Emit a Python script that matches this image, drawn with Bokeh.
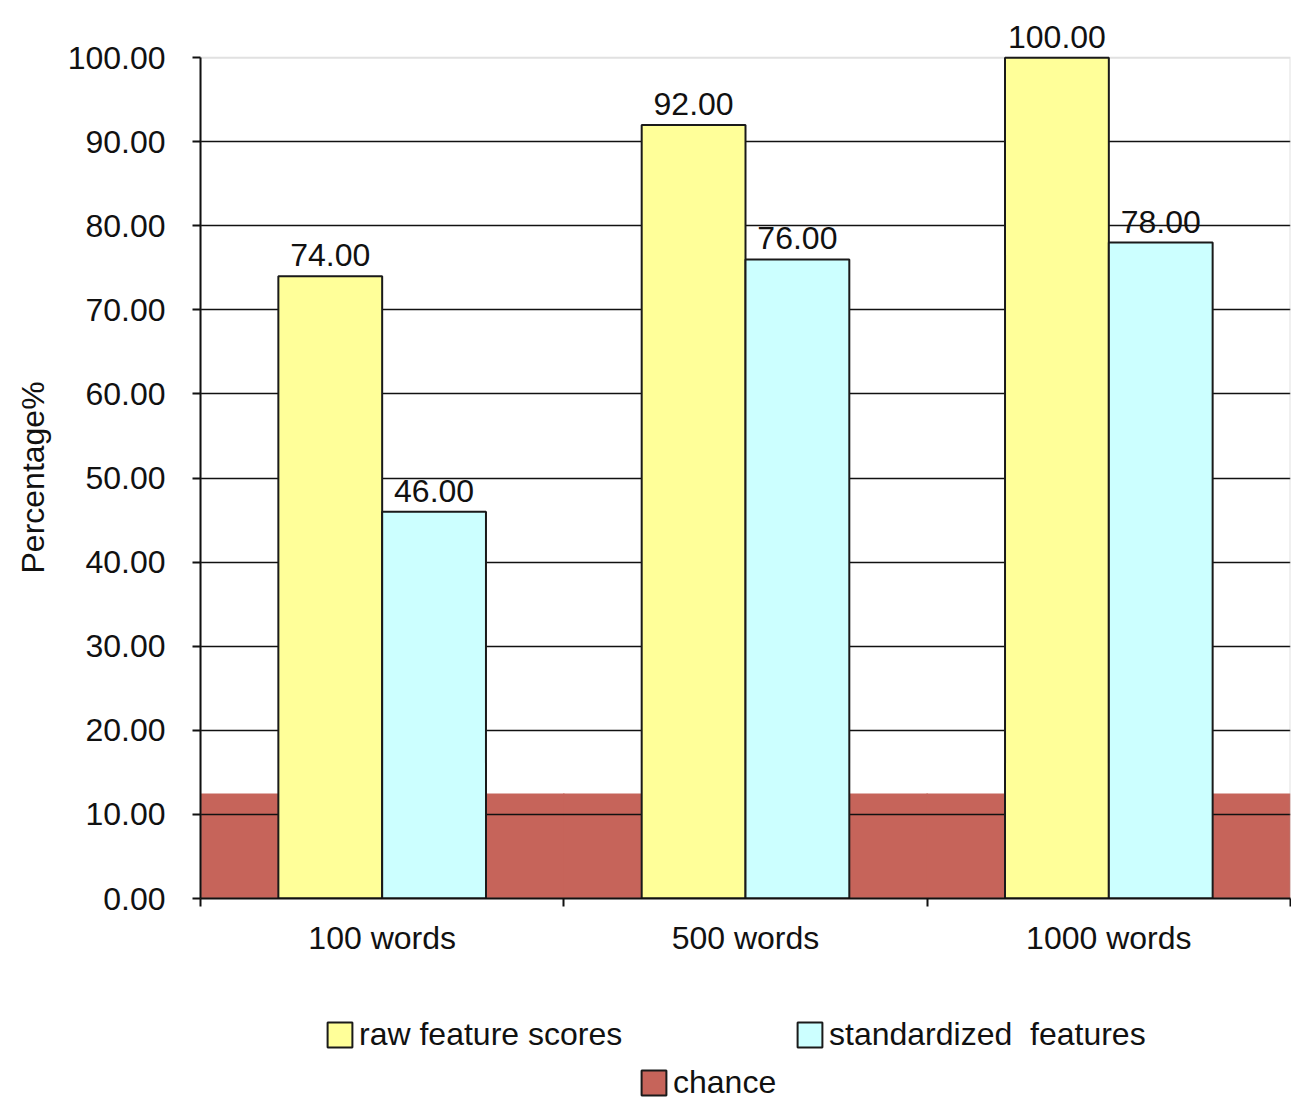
from bokeh.plotting import figure
from bokeh.layouts import column
from bokeh.models import (Range1d, FixedTicker, NumeralTickFormatter, Legend, LegendItem,
                          ColumnDataSource, BoxAnnotation, Title)
from bokeh.core.properties import value
from bokeh.embed import file_html
from bokeh.resources import INLINE

# Accuracy per text length
categories = ["100 words", "500 words", "1000 words"]
raw_scores = [74.00, 92.00, 100.00]
standardized = [46.00, 76.00, 78.00]
chance = [12.5, 12.5, 12.5]
y_ticks = [0, 10, 20, 30, 40, 50, 60, 70, 80, 90, 100]

FONT = "Liberation Sans"
FS = "32px"
INK = "#111111"
YELLOW = "#FFFF99"
CYAN = "#CCFFFF"
RED = "#C6645A"
EDGE = "#1a1a1a"

W = 1291
MAIN_H = 991
KEY_H = 110

# group layout: two bars per category, Excel-like gap width of 150%
bar_w = 1 / 3.5
centers = [i + 0.5 for i in range(len(categories))]
x_raw = [c - bar_w / 2 for c in centers]
x_std = [c + bar_w / 2 for c in centers]

# headroom above 100 keeps the top value label inside the drawing area
p = figure(width=W, height=MAIN_H, x_range=Range1d(0, len(categories)), y_range=Range1d(0, 106.2),
           output_backend="svg", toolbar_location=None,
           min_border_left=200, min_border_right=1, min_border_top=5, min_border_bottom=MAIN_H - 898)
p.background_fill_color = "white"
p.border_fill_color = "white"
p.outline_line_color = None

# plot-area border from 0 to 100
p.add_layout(BoxAnnotation(left=0, right=len(categories), bottom=0, top=100, fill_alpha=0,
                           line_color="#9a9a9a", line_width=2, level="underlay"))

# chance level band sits beneath the gridlines
chance_src = ColumnDataSource(dict(x=centers, top=chance))
p.vbar(x="x", top="top", width=1.004, source=chance_src, fill_color=RED,
       line_color=None, level="image")

raw_src = ColumnDataSource(dict(x=x_raw, top=raw_scores, label=[f"{v:.2f}" for v in raw_scores]))
std_src = ColumnDataSource(dict(x=x_std, top=standardized, label=[f"{v:.2f}" for v in standardized]))

p.vbar(x="x", top="top", width=bar_w, source=raw_src, fill_color=YELLOW,
       line_color=EDGE, line_width=2)
p.vbar(x="x", top="top", width=bar_w, source=std_src, fill_color=CYAN,
       line_color=EDGE, line_width=2)

for src in (raw_src, std_src):
    p.text(x="x", y="top", text="label", source=src, text_align="center",
           text_baseline="alphabetic", y_offset=-21, text_font_size=FS,
           text_font=value(FONT), text_color=INK)

# gridlines
p.xgrid.visible = False
p.ygrid.ticker = FixedTicker(ticks=y_ticks[1:-1])
p.ygrid.grid_line_color = INK
p.ygrid.grid_line_width = 1.5

# y axis
yax = p.yaxis[0]
yax.ticker = FixedTicker(ticks=y_ticks)
yax.bounds = (0, 100)
yax.formatter = NumeralTickFormatter(format="0.00")
yax.axis_line_color = INK
yax.axis_line_width = 2
yax.major_tick_line_color = INK
yax.major_tick_line_width = 2
yax.major_tick_out = 8
yax.major_tick_in = 0
yax.minor_tick_line_color = None
yax.major_label_standoff = 27
yax.major_label_text_font = FONT
yax.major_label_text_font_size = FS
yax.major_label_text_color = INK

# y axis title, centred on the 0-100 span rather than the whole frame
p.add_layout(Title(text="Percentage%", align="left", offset=325, vertical_align="middle",
                   standoff=26, text_font=FONT, text_font_size=FS, text_font_style="normal",
                   text_color=INK), "left")

# x axis: labels centred on groups, ticks on group boundaries
xax = p.xaxis[0]
xax.ticker = FixedTicker(ticks=centers, minor_ticks=list(range(len(categories) + 1)))
xax.major_label_overrides = {c: name for c, name in zip(centers, categories)}
xax.axis_line_color = INK
xax.axis_line_width = 2
xax.major_tick_line_color = None
xax.major_tick_out = 0
xax.major_tick_in = 0
xax.minor_tick_line_color = INK
xax.minor_tick_line_width = 2
xax.minor_tick_out = 8
xax.minor_tick_in = 0
xax.major_label_standoff = 13
xax.major_label_text_font = FONT
xax.major_label_text_font_size = FS
xax.major_label_text_color = INK

# legend strip underneath the chart; its hidden renderers only supply the swatch styles
key = figure(width=W, height=KEY_H, x_range=Range1d(0, 1), y_range=Range1d(0, 1),
             output_backend="svg", toolbar_location=None, x_axis_type=None, y_axis_type=None,
             min_border=0)
key.outline_line_color = None
key.xgrid.visible = False
key.ygrid.visible = False
k_raw = key.vbar(x="x", top="top", width=bar_w, source=raw_src, fill_color=YELLOW,
                 line_color=EDGE, line_width=2, visible=False)
k_std = key.vbar(x="x", top="top", width=bar_w, source=std_src, fill_color=CYAN,
                 line_color=EDGE, line_width=2, visible=False)
k_chance = key.vbar(x="x", top="top", width=1.0, source=chance_src, fill_color=RED,
                    line_color=EDGE, line_width=2, visible=False)


def add_key(label, renderer, loc):
    key.add_layout(Legend(items=[LegendItem(label=label, renderers=[renderer])], location=loc,
                          orientation="horizontal", padding=0, margin=0, spacing=0,
                          border_line_color=None, background_fill_alpha=0,
                          inactive_fill_alpha=0,
                          glyph_width=31, glyph_height=31, label_standoff=4,
                          label_text_font=FONT, label_text_font_size=FS, label_text_color=INK))


# the strip's frame lines up with the chart's frame (left edge at x=200)
add_key("raw feature scores", k_raw, (124, 48))
add_key("standardized  features", k_std, (594, 48))
add_key("chance", k_chance, (438, 0))

open("out.html", "w").write(file_html(column(p, key, spacing=0), INLINE))
